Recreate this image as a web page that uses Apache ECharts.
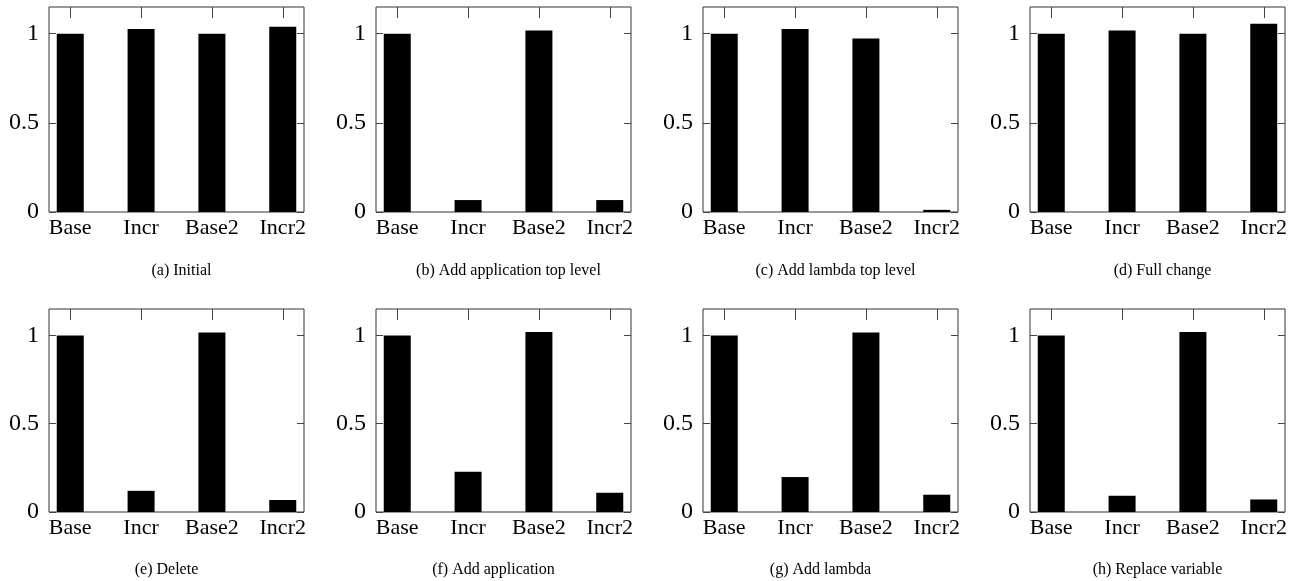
<!DOCTYPE html>
<html>
<head>
<meta charset="utf-8">
<script src="https://cdn.jsdelivr.net/npm/echarts@6/dist/echarts.min.js"></script>
<style>
html,body{margin:0;padding:0;background:#fff;}
#c{width:1299px;height:581px;}
</style>
</head>
<body>
<div id="c"></div>
<script>
const categories = ['Base', 'Incr', 'Base2', 'Incr2'];
const yTicks = [0, 0.5, 1];
const captions = [
  '(a) Initial',
  '(b) Add application top level',
  '(c) Add lambda top level',
  '(d) Full change',
  '(e) Delete',
  '(f) Add application',
  '(g) Add lambda',
  '(h) Replace variable'
];
const valuesA = [1.00, 1.026, 1.00, 1.039];
const valuesB = [1.00, 0.067, 1.018, 0.067];
const valuesC = [1.00, 1.026, 0.973, 0.012];
const valuesD = [1.00, 1.018, 1.00, 1.056];
const valuesE = [1.00, 0.120, 1.017, 0.068];
const valuesF = [1.00, 0.228, 1.020, 0.109];
const valuesG = [1.00, 0.198, 1.017, 0.098];
const valuesH = [1.00, 0.092, 1.020, 0.071];
const panelValues = [valuesA, valuesB, valuesC, valuesD, valuesE, valuesF, valuesG, valuesH];

const serif = '"Liberation Serif", "Times New Roman", serif';
const lefts = [49, 376, 703, 1030];
const tops = [7, 309];
const heights = [205, 203];
const W = 255;
const captionTops = [258, 557];
const captionShift = [0, 0, 0, 0, -15, -15, -15, -5];

const grid = [], xAxis = [], yAxis = [], series = [], title = [];
const catIdx = categories.map((c, i) => i);
const tickStyle = {color: '#444', width: 1};

panelValues.forEach((vals, p) => {
  const row = Math.floor(p / 4), col = p % 4;
  grid.push({
    left: lefts[col], top: tops[row], width: W, height: heights[row],
    show: true, borderColor: '#333', borderWidth: 1, backgroundColor: 'transparent',
    containLabel: false
  });
  xAxis.push({
    type: 'value', gridIndex: p, min: -0.3, max: 3.3, position: 'bottom',
    axisLine: {show: false, onZero: false}, axisTick: {show: false}, splitLine: {show: false},
    axisLabel: {
      customValues: catIdx, formatter: v => categories[Math.round(v)],
      fontFamily: serif, fontSize: 22, color: '#000', margin: 5
    }
  });
  xAxis.push({
    type: 'value', gridIndex: p, min: -0.3, max: 3.3, position: 'top',
    axisLine: {show: false, onZero: false}, splitLine: {show: false}, axisLabel: {show: false},
    axisTick: {show: true, inside: true, length: 11, customValues: catIdx, lineStyle: tickStyle}
  });
  yAxis.push({
    type: 'value', gridIndex: p, min: 0, max: 1.15, position: 'left',
    axisLine: {show: false, onZero: false}, splitLine: {show: false},
    axisTick: {show: true, inside: true, length: 7, customValues: yTicks, lineStyle: tickStyle},
    axisLabel: {customValues: yTicks, fontFamily: serif, fontSize: 24, color: '#000', margin: 10}
  });
  yAxis.push({
    type: 'value', gridIndex: p, min: 0, max: 1.15, position: 'right',
    axisLine: {show: false, onZero: false}, splitLine: {show: false}, axisLabel: {show: false},
    axisTick: {show: true, inside: true, length: 7, customValues: yTicks, lineStyle: tickStyle}
  });
  series.push({
    type: 'bar', xAxisIndex: 2 * p, yAxisIndex: 2 * p, barWidth: 27,
    itemStyle: {color: '#000'},
    data: vals.map((v, i) => [catIdx[i], v])
  });
  title.push({
    text: captions[p], left: lefts[col] + W / 2 + captionShift[p], top: captionTops[row], textAlign: 'center',
    textStyle: {fontFamily: serif, fontSize: 16, fontWeight: 'normal', color: '#000'}
  });
});

const chart = echarts.init(document.getElementById('c'), null, {renderer: 'canvas'});
chart.setOption({animation: false, backgroundColor: '#fff', title, grid, xAxis, yAxis, series});
</script>
</body>
</html>
